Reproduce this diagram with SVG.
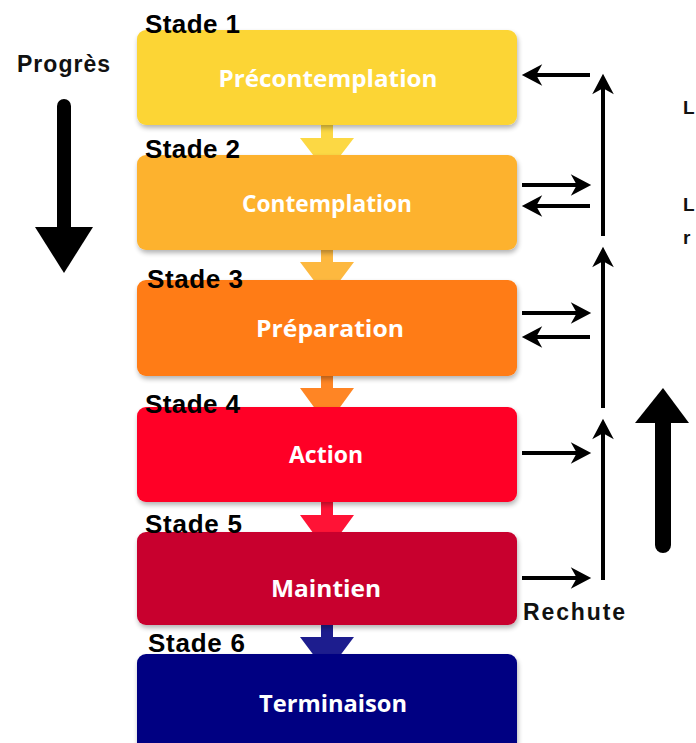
<svg xmlns="http://www.w3.org/2000/svg" width="696" height="743" viewBox="0 0 696 743">
<defs>
<style>
.box{stroke:none}
.stade{font-family:"Liberation Sans",Arial,sans-serif;font-weight:bold;font-size:26px;fill:#000}
.lbl{font-family:"Open Sans","Liberation Sans",sans-serif;font-weight:bold;font-size:24px;fill:#fff;text-anchor:middle}
.side{font-family:"Liberation Sans",Arial,sans-serif;font-weight:bold;font-size:23px;fill:#111}
.edge{font-family:"Liberation Sans",Arial,sans-serif;font-weight:bold;font-size:19px;fill:#111}
.ln{stroke:#000;stroke-width:4;fill:none;marker-end:url(#ah)}
</style>
<filter id="sh" x="-5%" y="-10%" width="110%" height="125%">
<feGaussianBlur in="SourceAlpha" stdDeviation="2.5"/>
<feOffset dx="1" dy="3" result="b"/>
<feComponentTransfer><feFuncA type="linear" slope="0.3"/></feComponentTransfer>
<feMerge><feMergeNode/><feMergeNode in="SourceGraphic"/></feMerge>
</filter>
<marker id="ah" markerUnits="userSpaceOnUse" markerWidth="24" markerHeight="24" viewBox="-18 -10 20 20" refX="-6" refY="0" orient="auto">
<path d="M0,0 L-17,-9 L-12,0 L-17,9 Z" fill="#000"/>
</marker>
</defs>
<rect width="696" height="743" fill="#fff"/>

<g id="connectors">
<g opacity="0.92">
<rect x="321" y="120" width="12" height="20" fill="#FCD535"/>
<polygon points="300,138 354,138 327,173" fill="#FCD535"/>
<rect x="321" y="245" width="12" height="20" fill="#FDB22F"/>
<polygon points="300,262 354,262 327,298" fill="#FDB22F"/>
<rect x="321" y="372" width="12" height="18" fill="#FF7B12"/>
<polygon points="300,388 354,388 327,425" fill="#FF7B12"/>
<rect x="321" y="498" width="12" height="19" fill="#FF0025"/>
<polygon points="300,515 354,515 327,552" fill="#FF0025"/>
<rect x="321" y="620" width="12" height="19" fill="#0A0A85"/>
<polygon points="300,637 354,637 327,673" fill="#0A0A85"/>
</g>
<line class="ln" x1="590" y1="75" x2="529" y2="75"/>
<line class="ln" x1="522" y1="185" x2="584" y2="185"/>
<line class="ln" x1="590" y1="206" x2="529" y2="206"/>
<line class="ln" x1="522" y1="313" x2="584" y2="313"/>
<line class="ln" x1="590" y1="337" x2="529" y2="337"/>
<line class="ln" x1="522" y1="453" x2="584" y2="453"/>
<line class="ln" x1="522" y1="578" x2="584" y2="578"/>
<line class="ln" x1="603" y1="236" x2="603" y2="81"/>
<line class="ln" x1="603" y1="408" x2="603" y2="254"/>
<line class="ln" x1="603" y1="580" x2="603" y2="426"/>
<line x1="64" y1="106" x2="64" y2="230" stroke="#000" stroke-width="14" stroke-linecap="round"/>
<polygon points="35,227 93,227 64,273" fill="#000"/>
<line x1="663" y1="420" x2="663" y2="545" stroke="#000" stroke-width="16" stroke-linecap="round"/>
<polygon points="635,423 689,423 663,388" fill="#000"/>
</g>

<g id="stage1">
<rect class="box" x="137" y="30" width="380" height="95" rx="9" fill="#FCD535" filter="url(#sh)"/>
<text class="stade" x="145" y="33" textLength="95">Stade 1</text>
<text class="lbl" x="328" y="87" textLength="219" lengthAdjust="spacingAndGlyphs">Précontemplation</text>
</g>
<g id="stage2">
<rect class="box" x="137" y="155" width="380" height="95" rx="9" fill="#FDB22F" filter="url(#sh)"/>
<text class="stade" x="145" y="158" textLength="95">Stade 2</text>
<text class="lbl" x="327" y="212" textLength="170" lengthAdjust="spacingAndGlyphs">Contemplation</text>
</g>
<g id="stage3">
<rect class="box" x="137" y="280" width="380" height="96" rx="9" fill="#FF7B12" filter="url(#sh)"/>
<text class="stade" x="147" y="288" textLength="96">Stade 3</text>
<text class="lbl" x="330" y="337" textLength="148" lengthAdjust="spacingAndGlyphs">Préparation</text>
</g>
<g id="stage4">
<rect class="box" x="137" y="407" width="380" height="95" rx="9" fill="#FF0025" filter="url(#sh)"/>
<text class="stade" x="145" y="413" textLength="95">Stade 4</text>
<text class="lbl" x="326" y="463" textLength="74" lengthAdjust="spacingAndGlyphs">Action</text>
</g>
<g id="stage5">
<rect class="box" x="137" y="532" width="380" height="93" rx="9" fill="#C8002F" filter="url(#sh)"/>
<text class="stade" x="145" y="533" textLength="97">Stade 5</text>
<text class="lbl" x="326" y="597" textLength="110" lengthAdjust="spacingAndGlyphs">Maintien</text>
</g>
<g id="stage6">
<rect class="box" x="137" y="654" width="380" height="100" rx="9" fill="#020282" filter="url(#sh)"/>
<text class="stade" x="148" y="652" textLength="97">Stade 6</text>
<text class="lbl" x="333" y="712" textLength="148" lengthAdjust="spacingAndGlyphs">Terminaison</text>
</g>

<text class="side" x="17" y="72" textLength="93">Progrès</text>
<text class="side" x="523" y="620" textLength="102">Rechute</text>
<text class="edge" x="683" y="114">L</text>
<text class="edge" x="683" y="211">L</text>
<text class="edge" x="683" y="244">r</text>
</svg>
